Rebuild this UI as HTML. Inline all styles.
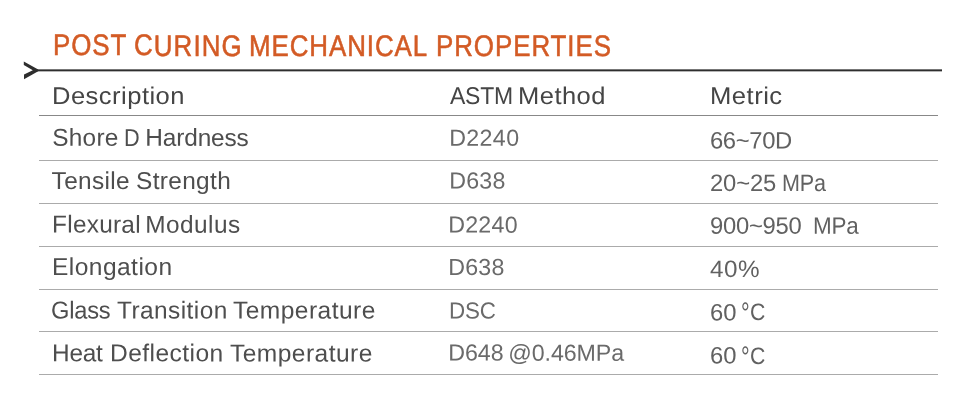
<!DOCTYPE html>
<html lang="en">
<head>
<meta charset="utf-8">
<title>Post Curing Mechanical Properties</title>
<style>
html,body{margin:0;padding:0;background:#fff;}
body{width:960px;height:404px;position:relative;overflow:hidden;font-family:"Liberation Sans", sans-serif;}
.p{position:absolute;white-space:nowrap;height:0;transform-origin:0 0;}
.p span{position:absolute;top:0;white-space:pre;transform-origin:0 0;}
.t{-webkit-text-stroke:0.55px #d35b25;}
.rl{position:absolute;left:38.6px;width:899px;height:1px;background:#ababab;}
.rl.d{background:#888;}
.hl{position:absolute;left:0;top:65px;}
svg.ch{position:absolute;left:18px;top:56px;}
</style>
</head>
<body>
<svg class="ch" width="30" height="30" viewBox="18 56 30 30"><polygon points="23.8,61.6 38.2,69.5 38.2,71.2 24,79.2 24,74.4 32.8,70.3 23.8,65.0" fill="#2e2e2e"/></svg>
<svg class="hl" width="960" height="10" viewBox="0 65 960 10"><rect x="36" y="69.35" width="906" height="2" fill="#2e2e2e"/></svg>
<div class="rl d" style="top:114.90px"></div>
<div class="rl" style="top:160.00px"></div>
<div class="rl" style="top:203.00px"></div>
<div class="rl" style="top:246.00px"></div>
<div class="rl" style="top:288.60px"></div>
<div class="rl" style="top:331.30px"></div>
<div class="rl" style="top:374.00px"></div>
<div class="p t" style="left:55.20px;top:25px;transform:translateY(0.45px) rotate(0.03deg);font-size:29.60px;line-height:39px;color:#d35b25"><span style="left:-2.02px;letter-spacing:1.047px;transform:scaleX(0.875)">POST</span> <span style="left:78.99px;letter-spacing:1.278px;transform:scaleX(0.875)">CURING</span> <span style="left:194.28px;letter-spacing:1.060px;transform:scaleX(0.875)">MECHANICAL</span> <span style="left:381.08px;letter-spacing:1.084px;transform:scaleX(0.875)">PROPERTIES</span></div>
<div class="p" style="left:54.20px;top:79px;transform:translateY(0.00px) rotate(0.03deg);font-size:24.20px;line-height:33px;color:#454545"><span style="left:-2.00px;letter-spacing:0.450px;transform:scaleX(1.056)">Description</span></div>
<div class="p" style="left:450.00px;top:79px;transform:translateY(0.00px) rotate(0.03deg);font-size:24.20px;line-height:33px;color:#454545"><span style="left:0.00px;letter-spacing:-0.200px;transform:scaleX(0.949)">ASTM</span> <span style="left:68.21px;letter-spacing:0.450px;transform:scaleX(1.055)">Method</span></div>
<div class="p" style="left:711.80px;top:79px;transform:translateY(0.00px) rotate(0.03deg);font-size:24.20px;line-height:33px;color:#454545"><span style="left:-2.00px;letter-spacing:0.450px;transform:scaleX(1.060)">Metric</span></div>
<div class="p" style="left:52.50px;top:120px;transform:translateY(0.80px) rotate(0.03deg);font-size:24.40px;line-height:33px;color:#4e4e4e"><span style="left:-0.76px;letter-spacing:0.260px">Shore</span> <span style="left:71.21px;letter-spacing:0.000px;transform:scaleX(0.888)">D</span> <span style="left:92.29px;letter-spacing:-0.123px">Hardness</span></div>
<div class="p" style="left:450.50px;top:121px;transform:translateY(0.80px) rotate(0.03deg);font-size:23.20px;line-height:32px;color:#6a6a6a"><span style="left:-1.81px;letter-spacing:0.381px">D2240</span></div>
<div class="p" style="left:711.00px;top:123px;transform:translateY(0.40px) rotate(0.03deg);font-size:23.80px;line-height:33px;color:#616161"><span style="left:-1.12px;letter-spacing:-0.338px">66~70D</span></div>
<div class="p" style="left:52.00px;top:164px;transform:translateY(0.00px) rotate(0.03deg);font-size:24.40px;line-height:33px;color:#4e4e4e"><span style="left:-0.38px;letter-spacing:0.353px">Tensile</span> <span style="left:84.04px;letter-spacing:0.356px">Strength</span></div>
<div class="p" style="left:450.50px;top:164px;transform:translateY(0.60px) rotate(0.03deg);font-size:23.20px;line-height:32px;color:#6a6a6a"><span style="left:-1.81px;letter-spacing:0.263px">D638</span></div>
<div class="p" style="left:711.00px;top:165px;transform:translateY(0.90px) rotate(0.03deg);font-size:23.80px;line-height:33px;color:#616161"><span style="left:-1.12px;letter-spacing:-0.091px">20~25</span> <span style="left:70.92px;letter-spacing:-0.200px;transform:scaleX(0.905)">MPa</span></div>
<div class="p" style="left:53.75px;top:207px;transform:translateY(0.60px) rotate(0.03deg);font-size:24.40px;line-height:33px;color:#4e4e4e"><span style="left:-1.91px;letter-spacing:0.248px">Flexural</span> <span style="left:91.34px;letter-spacing:0.449px">Modulus</span></div>
<div class="p" style="left:450.40px;top:208px;transform:translateY(0.60px) rotate(0.03deg);font-size:23.20px;line-height:32px;color:#6a6a6a"><span style="left:-1.81px;letter-spacing:0.256px">D2240</span></div>
<div class="p" style="left:710.80px;top:208px;transform:translateY(0.70px) rotate(0.03deg);font-size:23.80px;line-height:33px;color:#616161"><span style="left:-1.12px;letter-spacing:-0.235px">900~950</span> <span style="left:101.65px;letter-spacing:-0.200px;transform:scaleX(0.942)">MPa</span></div>
<div class="p" style="left:53.75px;top:250px;transform:translateY(0.00px) rotate(0.03deg);font-size:24.40px;line-height:33px;color:#4e4e4e"><span style="left:-1.92px;letter-spacing:0.450px;transform:scaleX(1.006)">Elongation</span></div>
<div class="p" style="left:450.40px;top:251px;transform:translateY(0.00px) rotate(0.03deg);font-size:23.20px;line-height:32px;color:#6a6a6a"><span style="left:-1.81px;letter-spacing:0.263px">D638</span></div>
<div class="p" style="left:710.20px;top:252px;transform:translateY(0.10px) rotate(0.03deg);font-size:23.80px;line-height:33px;color:#616161"><span style="left:-0.38px;letter-spacing:0.450px;transform:scaleX(1.020)">40%</span></div>
<div class="p" style="left:52.40px;top:293px;transform:translateY(0.40px) rotate(0.03deg);font-size:24.40px;line-height:33px;color:#4e4e4e"><span style="left:-1.11px;letter-spacing:-0.200px;transform:scaleX(0.970)">Glass</span> <span style="left:64.52px;letter-spacing:0.450px;transform:scaleX(1.001)">Transition</span> <span style="left:181.12px;letter-spacing:0.450px;transform:scaleX(1.007)">Temperature</span></div>
<div class="p" style="left:450.50px;top:294px;transform:translateY(0.40px) rotate(0.03deg);font-size:23.20px;line-height:32px;color:#6a6a6a"><span style="left:-1.75px;letter-spacing:-0.200px;transform:scaleX(0.964)">DSC</span></div>
<div class="p" style="left:711.40px;top:295px;transform:translateY(0.40px) rotate(0.03deg);font-size:23.80px;line-height:33px;color:#616161"><span style="left:-1.12px;letter-spacing:0.035px">60</span> <span style="left:30.49px;letter-spacing:0.000px;transform:scaleX(0.725);font-size:29.75px;top:1px">°</span><span style="left:38.60px;letter-spacing:0.000px;transform:scaleX(0.892)">C</span></div>
<div class="p" style="left:53.50px;top:336px;transform:translateY(0.30px) rotate(0.03deg);font-size:24.40px;line-height:33px;color:#4e4e4e"><span style="left:-1.91px;letter-spacing:-0.272px">Heat</span> <span style="left:56.38px;letter-spacing:0.450px;transform:scaleX(1.007)">Deflection</span> <span style="left:175.92px;letter-spacing:0.450px;transform:scaleX(1.007)">Temperature</span></div>
<div class="p" style="left:450.40px;top:336px;transform:translateY(0.60px) rotate(0.03deg);font-size:23.20px;line-height:32px;color:#6a6a6a"><span style="left:-1.81px;letter-spacing:-0.003px">D648</span> <span style="left:58.29px;letter-spacing:-0.063px">@0.46MPa</span></div>
<div class="p" style="left:711.40px;top:338px;transform:translateY(0.60px) rotate(0.03deg);font-size:23.80px;line-height:33px;color:#616161"><span style="left:-1.12px;letter-spacing:0.035px">60</span> <span style="left:30.49px;letter-spacing:0.000px;transform:scaleX(0.725);font-size:29.75px;top:1px">°</span><span style="left:38.60px;letter-spacing:0.000px;transform:scaleX(0.892)">C</span></div>
</body>
</html>
